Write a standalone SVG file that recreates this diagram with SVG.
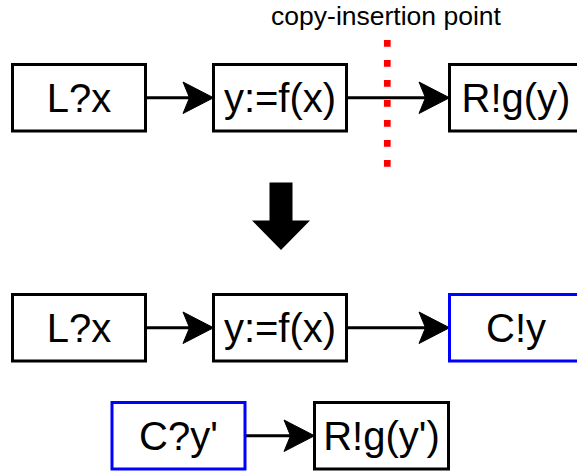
<svg xmlns="http://www.w3.org/2000/svg" width="577" height="471" viewBox="0 0 577 471">
<style>
.box{fill:#fff;stroke:#000;stroke-width:3}
.blue{stroke:#0000ff}
.lbl{font-family:"Liberation Sans",Arial,Helvetica,sans-serif;font-size:40px;fill:#000;text-anchor:middle}
.edge{stroke:#000;stroke-width:3;fill:none}
.head{fill:#000;stroke:#000;stroke-width:1}
</style>
<rect width="577" height="471" fill="#fff"/>
<text x="386" y="25" font-family="Liberation Sans,Arial,Helvetica,sans-serif" font-size="26.5" text-anchor="middle" fill="#000">copy-insertion point</text>
<g id="connectors">
<line class="edge" x1="145.5" y1="97.75" x2="190" y2="97.75"/>
<path class="head" d="M213.5,97.75 L183,82 L189.5,97.75 L183,113.5 Z"/>
<line class="edge" x1="346.5" y1="97.75" x2="426" y2="97.75"/>
<path class="head" d="M449.5,97.75 L419,82 L425.5,97.75 L419,113.5 Z"/>
<line class="edge" x1="145.5" y1="327.75" x2="190" y2="327.75"/>
<path class="head" d="M213.5,327.75 L183,312 L189.5,327.75 L183,343.5 Z"/>
<line class="edge" x1="346.5" y1="327.75" x2="426" y2="327.75"/>
<path class="head" d="M449.5,327.75 L419,312 L425.5,327.75 L419,343.5 Z"/>
<line class="edge" x1="245" y1="435.75" x2="291" y2="435.75"/>
<path class="head" d="M314.5,435.75 L284,420 L290.5,435.75 L284,451.5 Z"/>
</g>
<line x1="387.3" y1="40" x2="387.3" y2="170" stroke="#ff0000" stroke-width="6.7" stroke-dasharray="6.7 13.3"/>
<polygon points="269.5,182.5 292.5,182.5 292.5,220.5 310,220.5 281,250 252,220.5 269.5,220.5" fill="#000"/>
<g id="n1"><rect class="box" x="12.5" y="64.5" width="133" height="66.5"/><text class="lbl" x="79" y="112">L?x</text></g>
<g id="n2"><rect class="box" x="213.5" y="64.5" width="133" height="66.5"/><text class="lbl" x="280" y="112">y:=f(x)</text></g>
<g id="n3"><rect class="box" x="449.5" y="64.5" width="133" height="66.5"/><text class="lbl" x="516" y="112">R!g(y)</text></g>
<g id="n4"><rect class="box" x="12.5" y="294.5" width="133" height="66.5"/><text class="lbl" x="79" y="342">L?x</text></g>
<g id="n5"><rect class="box" x="213.5" y="294.5" width="133" height="66.5"/><text class="lbl" x="280" y="342">y:=f(x)</text></g>
<g id="n6"><rect class="box blue" x="449.5" y="294.5" width="133" height="66.5"/><text class="lbl" x="516" y="342">C!y</text></g>
<g id="n7"><rect class="box blue" x="112" y="402.5" width="133" height="66.5"/><text class="lbl" x="178.5" y="450">C?y'</text></g>
<g id="n8"><rect class="box" x="314.5" y="402.5" width="134" height="66.5"/><text class="lbl" x="381.5" y="450">R!g(y')</text></g>
</svg>
